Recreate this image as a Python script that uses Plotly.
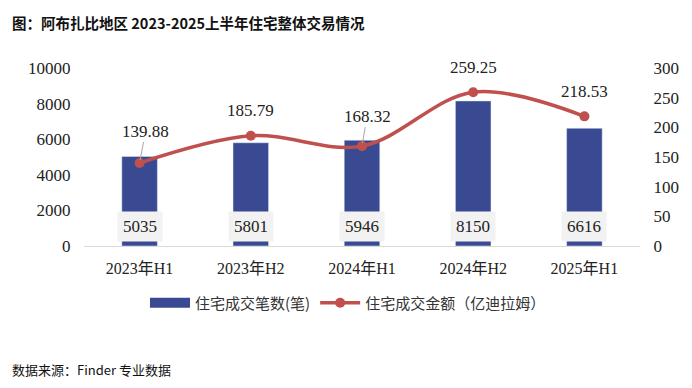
import plotly.graph_objects as go

categories = ["2023年H1", "2023年H2", "2024年H1", "2024年H2", "2025年H1"]
counts = [5035, 5801, 5946, 8150, 6616]
amounts = [139.88, 185.79, 168.32, 259.25, 218.53]
amount_labels = ["139.88", "185.79", "168.32", "259.25", "218.53"]

left_ticks = [0, 2000, 4000, 6000, 8000, 10000]
left_ticktext = ["0", "2000", "4000", "6000", "8000", "10000"]
right_ticks = [0, 50, 100, 150, 200, 250, 300]

BAR = "#3A4A92"
LINE = "#C0504D"
NUM_FONT = "Liberation Serif, serif"
CAT_FONT = "Liberation Serif, Noto Sans CJK SC"
CJK = "Noto Sans CJK SC"

fig = go.Figure()
fig.add_trace(go.Bar(
    x=categories, y=counts, name="住宅成交笔数(笔)",
    marker=dict(color=BAR), width=0.32, yaxis="y", showlegend=False,
))
fig.add_trace(go.Scatter(
    x=[None], y=[None], name="住宅成交笔数(笔)", mode="lines",
    line=dict(color=BAR, width=14), yaxis="y",
))
fig.add_trace(go.Scatter(
    x=categories, y=amounts, name="住宅成交金额（亿迪拉姆）", yaxis="y2",
    mode="lines+markers", line=dict(color=LINE, width=3.5, shape="spline", smoothing=1.0),
    marker=dict(color=LINE, size=10),
))

annotations = []
for c, v in zip(categories, counts):
    annotations.append(dict(
        x=c, y=0, xref="x", yref="y", text=str(v), showarrow=False,
        yshift=20, bgcolor="#F2F2F2", borderpad=5,
        font=dict(family=NUM_FONT, size=17, color="#222"),
    ))
leader = {0: (6, -32), 2: (5, -30)}
for i, (c, v, t) in enumerate(zip(categories, amounts, amount_labels)):
    if i in leader:
        ax, ay = leader[i]
        annotations.append(dict(
            x=c, y=v, xref="x", yref="y2", text=t, showarrow=True,
            ax=ax, ay=ay, arrowhead=0, arrowwidth=1, arrowcolor="#A6A6A6",
            standoff=3, font=dict(family=NUM_FONT, size=17, color="#222"),
        ))
    else:
        annotations.append(dict(
            x=c, y=v, xref="x", yref="y2", text=t, showarrow=False,
            yshift=25, font=dict(family=NUM_FONT, size=17, color="#222"),
        ))

OFF = 8
W, H = 692, 388
L, T = 84 - OFF, 68 - OFF
pw, ph = 556, 178
R = W - L - pw
B = H - T - ph

def px_to_paper(x, y):
    x, y = x - OFF, y - OFF
    return (x - L) / pw, (H - B - y) / ph

tx, ty = px_to_paper(10, 22)
annotations.append(dict(
    x=tx, y=ty, xref="paper", yref="paper", text="<b>图：阿布扎比地区 2023-2025上半年住宅整体交易情况</b>",
    showarrow=False, xanchor="left", yanchor="middle",
    font=dict(family=CJK, size=14.5, color="#111"),
))
sx, sy = px_to_paper(10, 369)
annotations.append(dict(
    x=sx, y=sy, xref="paper", yref="paper", text="数据来源：Finder 专业数据",
    showarrow=False, xanchor="left", yanchor="middle",
    font=dict(family=CJK, size=13, color="#111"),
))

fig.update_layout(
    width=W, height=H,
    margin=dict(l=L, r=R, t=T, b=B, autoexpand=False),
    paper_bgcolor="white", plot_bgcolor="white",
    showlegend=True,
    legend=dict(orientation="h", x=(348 - OFF) / W, xanchor="center", xref="container",
                y=1 - (303 - OFF) / H, yanchor="middle", yref="container",
                font=dict(family=CJK, size=15, color="#333"), itemwidth=40, tracegroupgap=0),
    xaxis=dict(type="category", showgrid=False, showline=True, linecolor="#D9D9D9", linewidth=1,
               ticks="outside", ticklen=8, tickcolor="rgba(0,0,0,0)", automargin=False,
               tickfont=dict(family=CAT_FONT, size=16, color="#222")),
    yaxis=dict(range=[0, 10000], tickvals=left_ticks, ticktext=left_ticktext, showgrid=False,
               zeroline=False, automargin=False,
               showline=False, ticks="outside", ticklen=9, tickcolor="rgba(0,0,0,0)",
               tickfont=dict(family=NUM_FONT, size=17, color="#222")),
    yaxis2=dict(range=[0, 300], tickvals=right_ticks, overlaying="y", side="right", showgrid=False,
                zeroline=False, showline=False, ticks="outside", ticklen=9, automargin=False,
                tickcolor="rgba(0,0,0,0)",
                tickfont=dict(family=NUM_FONT, size=17, color="#222")),
    annotations=annotations,
)

fig.write_html("out.html")
